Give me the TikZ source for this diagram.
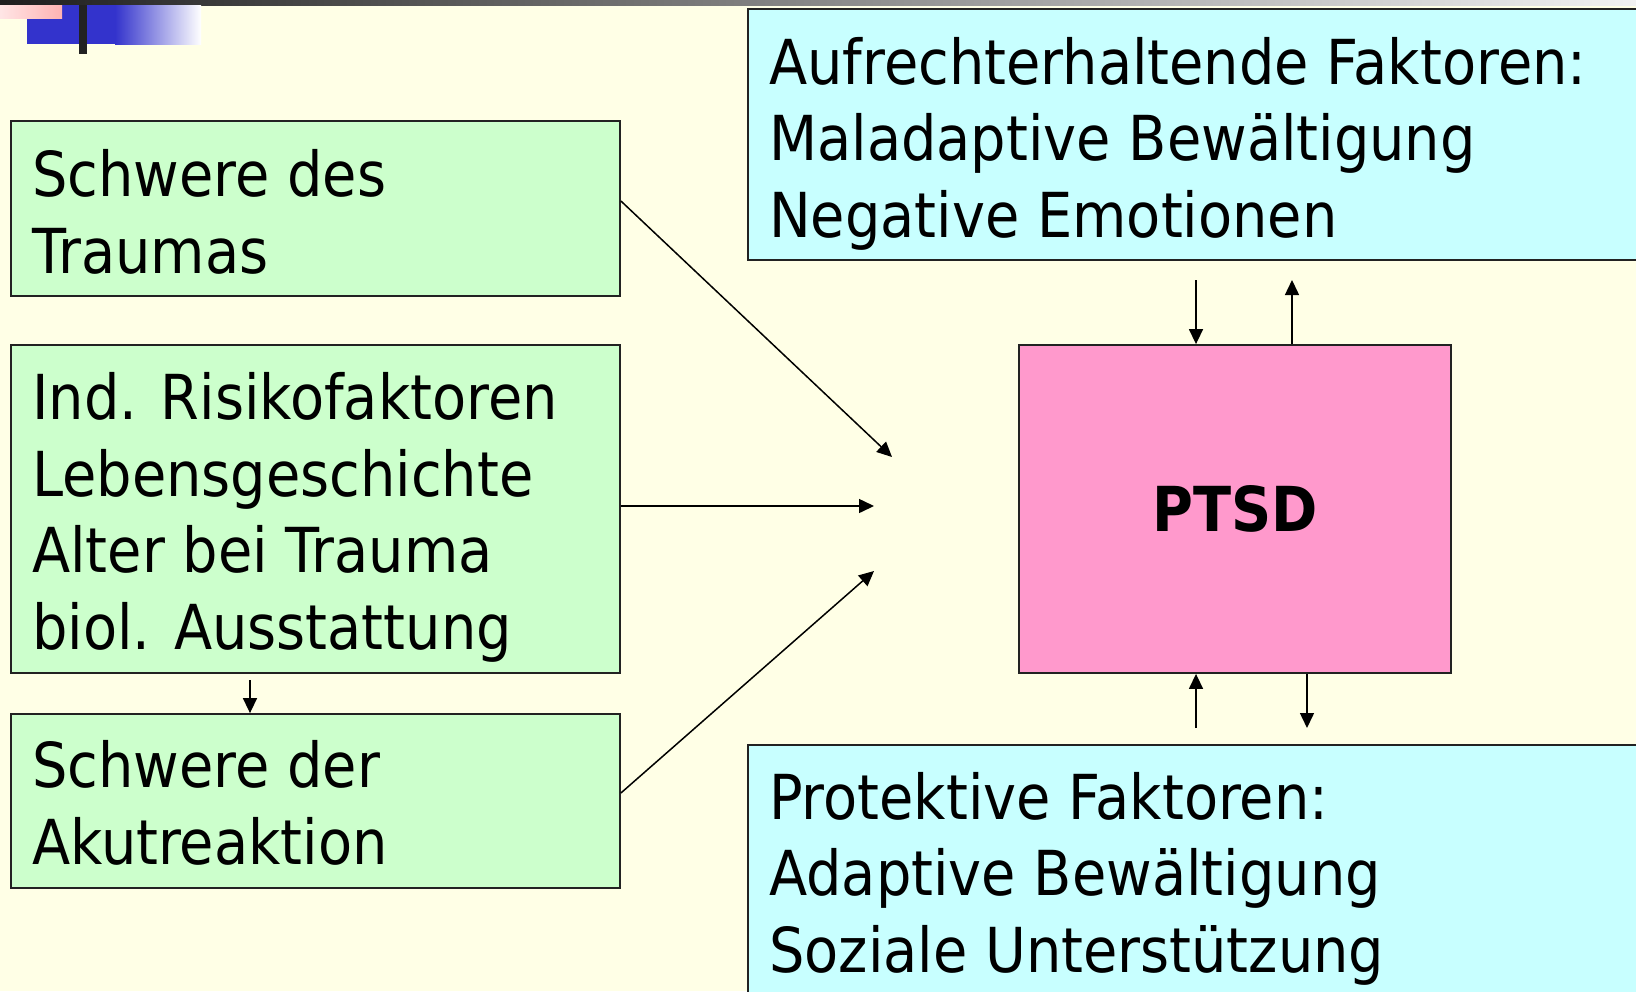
\documentclass[tikz,border=0pt]{standalone}
\usepackage{fontspec}
\setmainfont{DejaVu Sans}[FakeStretch=0.9]
\usetikzlibrary{arrows.meta}
\definecolor{bg}{HTML}{FFFFE6}
\definecolor{boxgreen}{HTML}{CCFFCC}
\definecolor{boxcyan}{HTML}{C8FFFF}
\definecolor{boxpink}{HTML}{FF99CC}
\definecolor{deco}{HTML}{3333CC}
\definecolor{edge}{HTML}{222222}
\tikzset{
  box/.style={draw=edge, line width=1.8pt, inner sep=0pt, minimum width=609pt},
  txt/.style={inner sep=0pt, anchor=base west, align=left, font=\fontsize{62}{76.5}\selectfont},
  arr/.style={line width=1.5pt, -{Triangle[length=15pt,width=14pt]}}
}
\begin{document}
\begin{tikzpicture}[x=1pt,y=-1pt]
\useasboundingbox (0,0) rectangle (1636,991);
\fill[bg] (0,0) rectangle (1636,991);
% decoration
\shade[left color=black!88, right color=black!5] (0,0) rectangle (1636,5);
\fill[deco] (27,5) rectangle (115,44);
\shade[left color=deco, right color=white] (115,5) rectangle (201,44);
\shade[left color=red!10, right color=red!30] (0,5) rectangle (62,18);
\fill[edge] (79,5) rectangle (87,54);
% boxes
\node[box, fill=boxgreen, minimum height=175pt] (b1) at (315.5,208.5) {};
\node[box, fill=boxgreen, minimum height=328pt] (b2) at (315.5,509) {};
\node[box, fill=boxgreen, minimum height=174pt] (b3) at (315.5,801) {};
\node[box, fill=boxcyan, minimum width=902pt, minimum height=251pt] (top) at (1199,134.5) {};
\node[box, fill=boxpink, minimum width=432pt, minimum height=328pt] (ptsd) at (1235,509) {};
\node[box, fill=boxcyan, minimum width=902pt, minimum height=265pt] (bot) at (1199,877.5) {};
% texts (anchored at the baseline of their last line)
\node[txt] (t1) at (32,273) {Schwere des\\Traumas};
\node[txt] (t2) at (32,649) {Ind. Risikofaktoren\\Lebensgeschichte\\Alter bei Trauma\\biol. Ausstattung};
\node[txt] (t3) at (32,864) {Schwere der\\Akutreaktion};
\node[txt] (t4) at (769,237) {Aufrechterhaltende Faktoren:\\Maladaptive Bewältigung\\Negative Emotionen};
\node[txt] (t5) at (769,972) {Protektive Faktoren:\\Adaptive Bewältigung\\Soziale Unterstützung};
\node[inner sep=0pt, font=\fontsize{62}{76.5}\selectfont\bfseries] (pl) at (ptsd.center) {PTSD};
% connectors
\coordinate (e1) at (892,457);
\coordinate (e2) at (874,506);
\coordinate (e3) at (874,571);
\draw[arr] ([yshift=7.5pt]b1.east) -- (e1);
\draw[arr] ([yshift=3pt]b2.east) -- (e2);
\draw[arr] ([yshift=8pt]b3.east) -- (e3);
\coordinate (s1) at (250,680);
\draw[arr] (s1) -- (s1 |- b3.north);
\coordinate (u1) at (1196,280);
\coordinate (u2) at (1292,280);
\draw[arr] (u1) -- (u1 |- ptsd.north);
\draw[arr] (u2 |- ptsd.north) -- (u2);
\coordinate (d1) at (1196,728);
\coordinate (d2) at (1307,728);
\draw[arr] (d1) -- (d1 |- ptsd.south);
\draw[arr] (d2 |- ptsd.south) -- (d2);
\end{tikzpicture}
\end{document}
